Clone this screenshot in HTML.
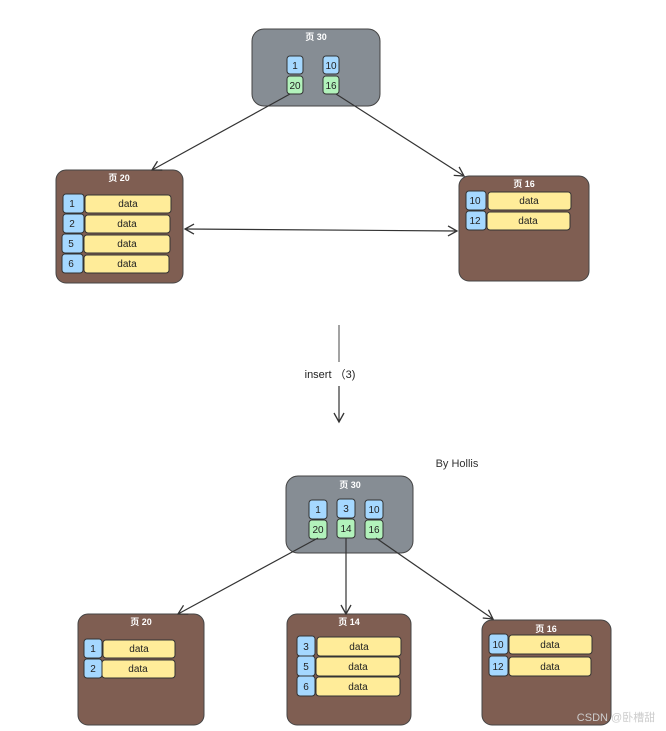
<!DOCTYPE html>
<html><head><meta charset="utf-8"><style>
html,body{margin:0;padding:0;background:#fff;width:666px;height:731px;overflow:hidden}
svg text{font-family:"Liberation Sans","Noto Sans CJK SC",sans-serif}
</style></head><body>
<svg width="666" height="731" viewBox="0 0 666 731" xmlns="http://www.w3.org/2000/svg">
<defs>
<marker id="ah" markerWidth="12" markerHeight="12" refX="10" refY="6" orient="auto" markerUnits="userSpaceOnUse">
<path d="M1,1 L10,6 L1,11" fill="none" stroke="#333" stroke-width="1.3"/>
</marker>
<marker id="as" markerWidth="12" markerHeight="12" refX="2" refY="6" orient="auto" markerUnits="userSpaceOnUse">
<path d="M11,1 L2,6 L11,11" fill="none" stroke="#333" stroke-width="1.3"/>
</marker>
</defs>
<g font-size="10" text-anchor="middle" fill="#222">
<!-- top root -->
<rect x="252" y="29" width="128" height="77" rx="12" fill="#868d94" stroke="#444"/>
<text x="316" y="40" fill="#fff" font-size="9" font-weight="bold">页 30</text>
<rect x="287" y="56" width="16" height="18" rx="3" fill="#a5d8ff" stroke="#333"/><text x="295" y="69">1</text>
<rect x="287" y="76" width="16" height="18" rx="3" fill="#b2f2bb" stroke="#333"/><text x="295" y="89">20</text>
<rect x="323" y="56" width="16" height="18" rx="3" fill="#a5d8ff" stroke="#333"/><text x="331" y="69">10</text>
<rect x="323" y="76" width="16" height="18" rx="3" fill="#b2f2bb" stroke="#333"/><text x="331" y="89">16</text>
<!-- page 20 top -->
<rect x="56" y="170" width="127" height="113" rx="10" fill="#7f5e52" stroke="#444"/>
<text x="119" y="181" fill="#fff" font-size="9" font-weight="bold">页 20</text>
<rect x="63" y="194" width="21" height="19" rx="3" fill="#a5d8ff" stroke="#333"/><text x="72" y="207">1</text>
<rect x="85" y="195" width="86" height="18" rx="3" fill="#ffec99" stroke="#333"/><text x="128" y="207">data</text>
<rect x="63" y="214" width="21" height="19" rx="3" fill="#a5d8ff" stroke="#333"/><text x="72" y="227">2</text>
<rect x="85" y="215" width="85" height="18" rx="3" fill="#ffec99" stroke="#333"/><text x="127" y="227">data</text>
<rect x="62" y="234" width="21" height="19" rx="3" fill="#a5d8ff" stroke="#333"/><text x="71" y="247">5</text>
<rect x="84" y="235" width="86" height="18" rx="3" fill="#ffec99" stroke="#333"/><text x="127" y="247">data</text>
<rect x="62" y="254" width="21" height="19" rx="3" fill="#a5d8ff" stroke="#333"/><text x="71" y="267">6</text>
<rect x="84" y="255" width="85" height="18" rx="3" fill="#ffec99" stroke="#333"/><text x="127" y="267">data</text>
<!-- page 16 top -->
<rect x="459" y="176" width="130" height="105" rx="10" fill="#7f5e52" stroke="#444"/>
<text x="524" y="187" fill="#fff" font-size="9" font-weight="bold">页 16</text>
<rect x="466" y="191" width="20" height="19" rx="3" fill="#a5d8ff" stroke="#333"/><text x="475" y="204">10</text>
<rect x="488" y="192" width="83" height="18" rx="3" fill="#ffec99" stroke="#333"/><text x="529" y="204">data</text>
<rect x="466" y="211" width="20" height="19" rx="3" fill="#a5d8ff" stroke="#333"/><text x="475" y="224">12</text>
<rect x="487" y="212" width="83" height="18" rx="3" fill="#ffec99" stroke="#333"/><text x="528" y="224">data</text>
<!-- insert -->
<text x="330" y="378" font-size="11">insert （3)</text>
<text x="457" y="467" font-size="11" fill="#333">By Hollis</text>
<!-- bottom root -->
<rect x="286" y="476" width="127" height="77" rx="12" fill="#868d94" stroke="#444"/>
<text x="350" y="488" fill="#fff" font-size="9" font-weight="bold">页 30</text>
<rect x="309" y="500" width="18" height="19" rx="3" fill="#a5d8ff" stroke="#333"/><text x="318" y="513">1</text>
<rect x="309" y="520" width="18" height="19" rx="3" fill="#b2f2bb" stroke="#333"/><text x="318" y="533">20</text>
<rect x="337" y="499" width="18" height="19" rx="3" fill="#a5d8ff" stroke="#333"/><text x="346" y="512">3</text>
<rect x="337" y="519" width="18" height="19" rx="3" fill="#b2f2bb" stroke="#333"/><text x="346" y="532">14</text>
<rect x="365" y="500" width="18" height="19" rx="3" fill="#a5d8ff" stroke="#333"/><text x="374" y="513">10</text>
<rect x="365" y="520" width="18" height="19" rx="3" fill="#b2f2bb" stroke="#333"/><text x="374" y="533">16</text>
<!-- bottom page 20 -->
<rect x="78" y="614" width="126" height="111" rx="10" fill="#7f5e52" stroke="#444"/>
<text x="141" y="625" fill="#fff" font-size="9" font-weight="bold">页 20</text>
<rect x="84" y="639" width="18" height="19" rx="3" fill="#a5d8ff" stroke="#333"/><text x="93" y="652">1</text>
<rect x="103" y="640" width="72" height="18" rx="3" fill="#ffec99" stroke="#333"/><text x="139" y="652">data</text>
<rect x="84" y="659" width="18" height="19" rx="3" fill="#a5d8ff" stroke="#333"/><text x="93" y="672">2</text>
<rect x="102" y="660" width="73" height="18" rx="3" fill="#ffec99" stroke="#333"/><text x="138" y="672">data</text>
<!-- bottom page 14 -->
<rect x="287" y="614" width="124" height="111" rx="10" fill="#7f5e52" stroke="#444"/>
<text x="349" y="625" fill="#fff" font-size="9" font-weight="bold">页 14</text>
<rect x="297" y="636" width="18" height="20" rx="3" fill="#a5d8ff" stroke="#333"/><text x="306" y="650">3</text>
<rect x="317" y="637" width="84" height="19" rx="3" fill="#ffec99" stroke="#333"/><text x="359" y="650">data</text>
<rect x="297" y="656" width="18" height="20" rx="3" fill="#a5d8ff" stroke="#333"/><text x="306" y="670">5</text>
<rect x="316" y="657" width="84" height="19" rx="3" fill="#ffec99" stroke="#333"/><text x="358" y="670">data</text>
<rect x="297" y="676" width="18" height="20" rx="3" fill="#a5d8ff" stroke="#333"/><text x="306" y="690">6</text>
<rect x="316" y="677" width="84" height="19" rx="3" fill="#ffec99" stroke="#333"/><text x="358" y="690">data</text>
<!-- bottom page 16 -->
<rect x="482" y="620" width="129" height="105" rx="10" fill="#7f5e52" stroke="#444"/>
<text x="546" y="632" fill="#fff" font-size="9" font-weight="bold">页 16</text>
<rect x="489" y="634" width="19" height="20" rx="3" fill="#a5d8ff" stroke="#333"/><text x="498" y="648">10</text>
<rect x="509" y="635" width="83" height="19" rx="3" fill="#ffec99" stroke="#333"/><text x="550" y="648">data</text>
<rect x="489" y="656" width="19" height="20" rx="3" fill="#a5d8ff" stroke="#333"/><text x="498" y="670">12</text>
<rect x="509" y="657" width="82" height="19" rx="3" fill="#ffec99" stroke="#333"/><text x="550" y="670">data</text>
<text x="616" y="721" font-size="11" fill="#ccc">CSDN @卧槽甜</text>
</g>
<g stroke="#333" stroke-width="1.2" fill="none">
<line x1="290" y1="94" x2="152" y2="170" marker-end="url(#ah)"/>
<line x1="336" y1="94" x2="464" y2="176" marker-end="url(#ah)"/>
<line x1="185" y1="229" x2="457" y2="231" marker-end="url(#ah)" marker-start="url(#as)"/>
<line x1="339" y1="325" x2="339" y2="362" stroke="#666"/>
<line x1="339" y1="386" x2="339" y2="422" marker-end="url(#ah)"/>
<line x1="318" y1="538" x2="178" y2="614" marker-end="url(#ah)"/>
<line x1="346" y1="538" x2="346" y2="614" marker-end="url(#ah)"/>
<line x1="376" y1="538" x2="493" y2="619" marker-end="url(#ah)"/>
</g>
</svg>
</body></html>
